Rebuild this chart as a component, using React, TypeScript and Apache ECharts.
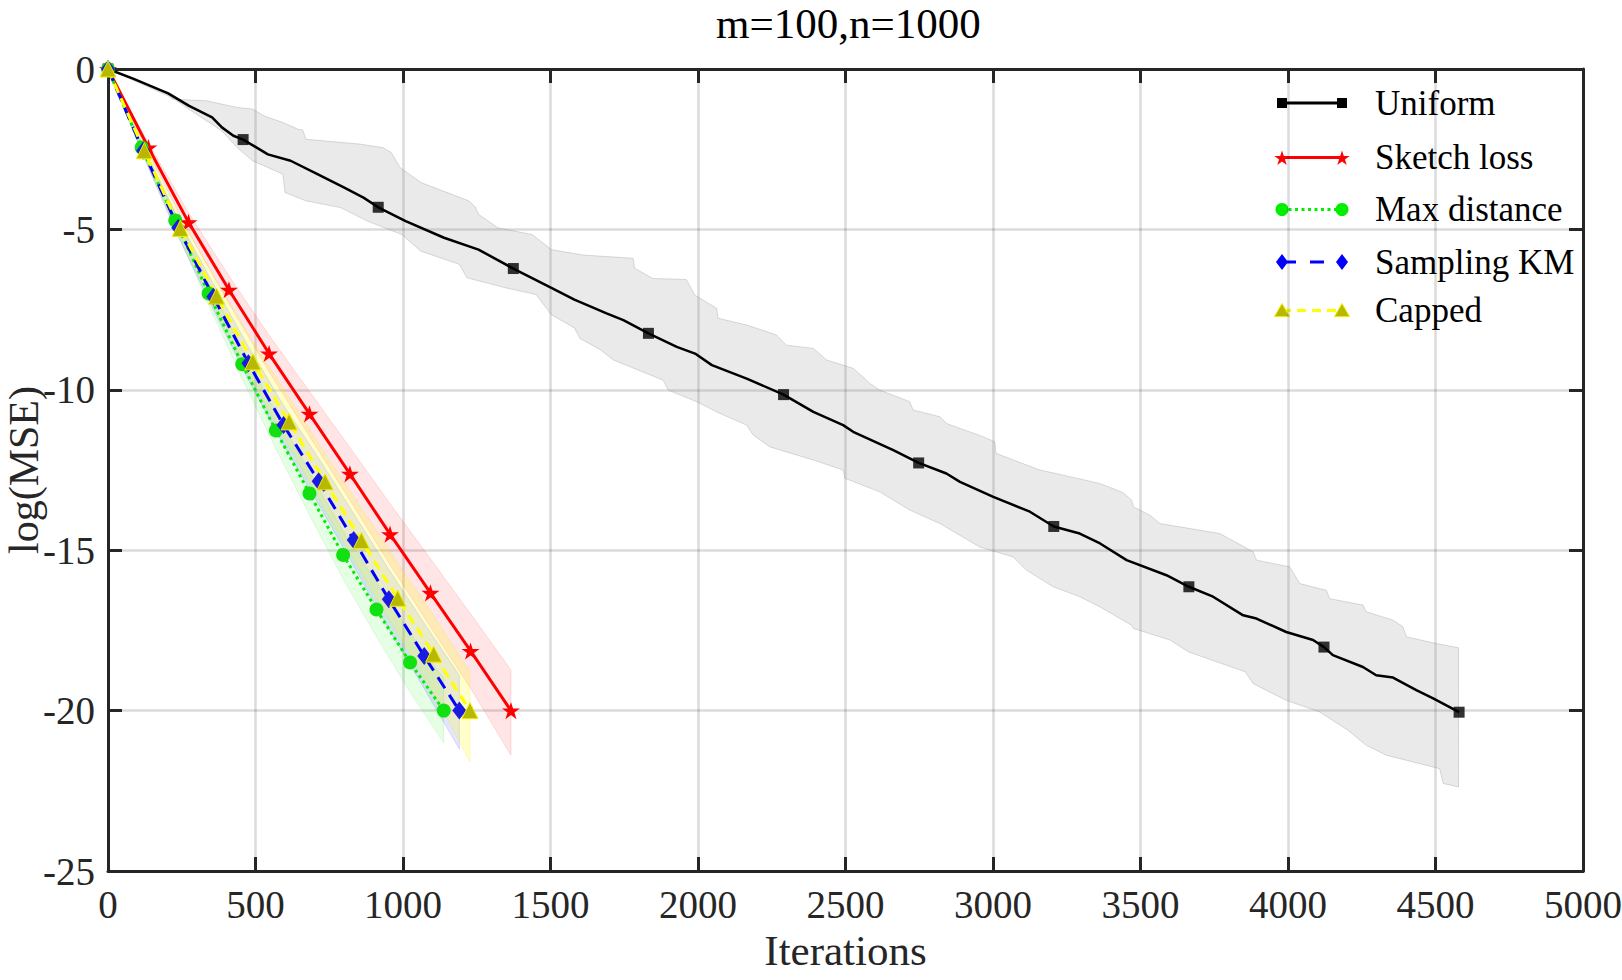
import React, { useEffect, useRef } from "react";
import * as echarts from "echarts";

// ---------- data ----------
const uniformLine: [number, number][] = [
  [0, 0], [87, -0.31], [204, -0.76], [275, -1.15], [353, -1.51], [386, -1.82], [425, -2.08],
  [458, -2.2], [542, -2.66], [619, -2.86], [710, -3.28], [801, -3.7], [866, -4.01], [916, -4.31],
  [1009, -4.74], [1139, -5.26], [1256, -5.63], [1374, -6.22], [1503, -6.82], [1581, -7.19],
  [1690, -7.62], [1747, -7.83], [1832, -8.24], [1928, -8.66], [1990, -8.87], [2047, -9.23],
  [2165, -9.65], [2290, -10.15], [2391, -10.69], [2492, -11.1], [2526, -11.31], [2662, -11.88],
  [2748, -12.28], [2842, -12.61], [2888, -12.87], [3001, -13.34], [3125, -13.8], [3206, -14.26],
  [3294, -14.48], [3363, -14.79], [3453, -15.31], [3588, -15.78], [3664, -16.14], [3746, -16.45],
  [3848, -17.03], [3893, -17.13], [3994, -17.55], [4085, -17.8], [4122, -18.02], [4152, -18.27],
  [4254, -18.64], [4299, -18.9], [4356, -18.97], [4435, -19.36], [4492, -19.62], [4580, -20.05],
];
const uniformMarkers: [number, number][] = [
  [0, 0], [458, -2.2], [916, -4.31], [1374, -6.22], [1832, -8.24], [2290, -10.15],
  [2748, -12.28], [3206, -14.26], [3664, -16.14], [4122, -18.02], [4580, -20.05],
];
const uniformUpper: [number, number][] = [
  [0, 0], [90, -0.3], [178, -0.68], [200, -0.7], [217, -0.94], [334, -0.99], [438, -1.2],
  [490, -1.25], [529, -1.46], [593, -1.67], [645, -1.88], [660, -1.9], [671, -2.19], [853, -2.34],
  [931, -2.45], [960, -2.6], [990, -3.07], [1061, -3.54], [1223, -4.11], [1245, -4.3],
  [1256, -4.53], [1321, -4.95], [1438, -5.16], [1503, -5.63], [1611, -5.8], [1780, -5.9],
  [1785, -6.21], [1847, -6.53], [1960, -6.56], [1990, -7.05], [2063, -7.46], [2068, -7.77],
  [2165, -7.98], [2266, -8.29], [2300, -8.61], [2391, -8.71], [2436, -9.07], [2526, -9.33],
  [2583, -9.8], [2616, -10.01], [2718, -10.37], [2729, -10.63], [2820, -10.84], [2842, -11.05],
  [2966, -11.46], [3006, -11.62], [3010, -11.98], [3159, -12.5], [3238, -12.66], [3362, -12.92],
  [3440, -13.2], [3470, -13.44], [3476, -13.65], [3532, -13.91], [3566, -14.17], [3769, -14.48],
  [3882, -15.05], [3893, -15.31], [4006, -15.52], [4040, -16.04], [4130, -16.25], [4141, -16.51],
  [4254, -16.71], [4265, -16.92], [4356, -17.18], [4390, -17.39], [4401, -17.7], [4503, -17.91],
  [4578, -18.04],
];
const uniformLower: [number, number][] = [
  [0, 0], [87, -0.36], [217, -0.89], [282, -1.3], [386, -1.93], [438, -2.45], [490, -2.86],
  [593, -3.28], [600, -3.85], [671, -4.11], [788, -4.32], [879, -4.74], [996, -5.16],
  [1061, -5.68], [1191, -6.09], [1217, -6.51], [1347, -6.82], [1451, -7.03], [1503, -7.66],
  [1581, -8.07], [1600, -8.4], [1669, -8.75], [1713, -9.07], [1882, -9.7], [1899, -10.01],
  [1995, -10.37], [2075, -10.74], [2165, -11.1], [2187, -11.41], [2244, -11.78], [2391, -12.19],
  [2492, -12.5], [2498, -12.76], [2616, -13.18], [2718, -13.75], [2820, -14.17], [2955, -14.9],
  [3068, -15.21], [3113, -15.62], [3204, -16.14], [3294, -16.45], [3363, -16.77], [3470, -17.34],
  [3476, -17.44], [3600, -17.8], [3663, -18.17], [3758, -18.48], [3855, -18.79], [3882, -19.16],
  [3994, -19.68], [4107, -20.04], [4203, -20.61], [4265, -21.08], [4333, -21.39], [4492, -21.76],
  [4514, -21.81], [4526, -22.27], [4578, -22.38],
];

const sketchX = [0, 137, 273, 410, 546, 683, 820, 956, 1093, 1229, 1366];
const sketchY = [0, -2.45, -4.78, -6.88, -8.87, -10.75, -12.62, -14.5, -16.33, -18.14, -20.0];
const sketchUp = [0, -2.3, -4.48, -6.45, -8.3, -10.05, -11.8, -13.55, -15.27, -16.98, -18.74];
const sketchLo = [0, -2.6, -5.08, -7.31, -9.44, -11.45, -13.44, -15.45, -17.39, -19.3, -21.39];

const maxDistX = [0, 114, 228, 341, 455, 569, 683, 797, 910, 1024, 1138];
const maxDistY = [0, -2.45, -4.72, -7.0, -9.2, -11.27, -13.23, -15.15, -16.85, -18.5, -20.0];
const maxDistUp = [0, -2.33, -4.49, -6.65, -8.74, -10.7, -12.57, -14.4, -16.0, -17.57, -19.0];
const maxDistLo = [0, -2.57, -4.95, -7.35, -9.66, -11.84, -13.9, -15.9, -17.7, -19.43, -21.0];

const kmX = [0, 119, 238, 357, 476, 595, 714, 833, 952, 1072, 1191];
const kmY = [0, -2.55, -4.95, -7.1, -9.17, -11.1, -12.85, -14.68, -16.53, -18.3, -20.0];
const kmUp = [0, -2.4, -4.67, -6.7, -8.65, -10.48, -12.13, -13.86, -15.6, -17.28, -18.9];
const kmLo = [0, -2.7, -5.23, -7.5, -9.69, -11.72, -13.57, -15.5, -17.46, -19.32, -21.2];

const cappedX = [0, 123, 245, 368, 491, 614, 736, 859, 982, 1104, 1227];
const cappedY = [0, -2.55, -4.97, -7.08, -9.13, -11.0, -12.87, -14.7, -16.5, -18.24, -20.0];
const cappedUp = [0, -2.38, -4.64, -6.6, -8.5, -10.25, -12.0, -13.7, -15.4, -17.05, -18.8];
const cappedLo = [0, -2.72, -5.3, -7.56, -9.76, -11.75, -13.74, -15.7, -17.6, -19.45, -21.6];

const legendNames = ["Uniform", "Sketch loss", "Max distance", "Sampling KM", "Capped"];
const titleText = "m=100,n=1000";
const xName = "Iterations";
const yName = "log(MSE)";

// ---------- styling helpers ----------
const FONT = "'Liberation Serif', 'Times New Roman', serif";
const AX = "#262626";
const STAR_PATH =
  "path://M50,0L61.2,34.5L97.6,34.5L68.2,55.9L79.4,90.5L50,69.1L20.6,90.5L31.8,55.9L2.4,34.5L38.8,34.5Z";
const STAR_PTS = [
  [0, -1], [0.2245, -0.309], [0.951, -0.309], [0.363, 0.118], [0.588, 0.809],
  [0, 0.382], [-0.588, 0.809], [-0.363, 0.118], [-0.951, -0.309], [-0.2245, -0.309],
];

const zip = (xs: number[], ys: number[]) => xs.map((x, i) => [x, ys[i]]);

function band(upper: number[][], lower: number[][], fill: string, stroke: string) {
  const poly = [...upper, ...lower.slice().reverse()];
  return {
    type: "custom",
    coordinateSystem: "cartesian2d",
    silent: true,
    clip: true,
    z: 1,
    data: [[0, 0]],
    renderItem: (_p: any, api: any) => ({
      type: "polygon",
      shape: { points: poly.map((p) => api.coord(p)) },
      style: { fill, stroke, lineWidth: 1 },
    }),
  };
}

function marker(kind: string, cx: number, cy: number) {
  switch (kind) {
    case "square":
      return { type: "rect", shape: { x: cx - 5, y: cy - 5, width: 10, height: 10 }, style: { fill: "#000" } };
    case "star":
      return {
        type: "polygon",
        shape: { points: STAR_PTS.map(([a, b]) => [cx + a * 8, cy + b * 8 + 1]) },
        style: { fill: "#ff0000" },
      };
    case "circle":
      return { type: "circle", shape: { cx, cy, r: 6.5 }, style: { fill: "#00ee00" } };
    case "diamond":
      return {
        type: "polygon",
        shape: { points: [[cx, cy - 8], [cx + 6, cy], [cx, cy + 8], [cx - 6, cy]] },
        style: { fill: "#0000ff" },
      };
    default:
      return {
        type: "polygon",
        shape: { points: [[cx, cy - 7], [cx + 7.5, cy + 6], [cx - 7.5, cy + 6]] },
        style: { fill: "#b8b800", stroke: "#eeee00", lineWidth: 1 },
      };
  }
}

export default function App() {
  const ref = useRef<HTMLDivElement>(null);

  useEffect(() => {
    if (!ref.current) return;
    const chart = echarts.init(ref.current, null, { renderer: "svg" });

    const legendY = [103, 157.5, 209.5, 262, 310.5];
    const legendStyle = [
      { color: "#000", dash: "solid" as any, mk: "square" },
      { color: "#ff0000", dash: "solid" as any, mk: "star" },
      { color: "#00ee00", dash: [3, 3.5], mk: "circle" },
      { color: "#0000ff", dash: [14, 14], mk: "diamond" },
      { color: "#ffff00", dash: [9, 6], mk: "triangle" },
    ];
    const legendGraphics: any[] = [];
    legendNames.forEach((name, i) => {
      const y = legendY[i];
      const s = legendStyle[i];
      legendGraphics.push({
        type: "line",
        shape: { x1: 1282, y1: y, x2: 1342, y2: y },
        style: { stroke: s.color, lineWidth: 3, lineDash: s.dash },
      });
      legendGraphics.push(marker(s.mk, 1282, y));
      legendGraphics.push(marker(s.mk, 1342, y));
      legendGraphics.push({
        type: "text",
        x: 1375,
        y: y,
        style: {
          text: name,
          font: `35px ${FONT}`,
          fill: "#000",
          textAlign: "left",
          textVerticalAlign: "middle",
        },
      });
    });

    const axisCommon = {
      type: "value",
      axisLine: { show: true, onZero: false, lineStyle: { color: AX, width: 3 } },
      axisTick: { show: true, inside: true, length: 14, lineStyle: { color: AX, width: 3 } },
    };
    const plain = (v: number) => String(v);

    const option: any = {
      animation: false,
      backgroundColor: "#fff",
      title: {
        text: titleText,
        left: 716,
        top: 2,
        padding: 0,
        textStyle: { fontFamily: FONT, fontSize: 43, fontWeight: "normal", color: "#000" },
      },
      grid: {
        left: 108,
        top: 69,
        right: 39,
        bottom: 109,
        containLabel: false,
        outerBoundsMode: "none",
      },
      xAxis: [
        {
          ...axisCommon,
          min: 0,
          max: 5000,
          interval: 500,
          position: "bottom",
          name: xName,
          nameLocation: "middle",
          nameGap: 58,
          nameTextStyle: { fontFamily: FONT, fontSize: 43, color: AX },
          axisLabel: { fontFamily: FONT, fontSize: 39, color: AX, margin: 14, formatter: plain },
          splitLine: { show: true, lineStyle: { color: "rgba(0,0,0,0.14)", width: 2.5 } },
        },
        {
          ...axisCommon,
          min: 0,
          max: 5000,
          interval: 500,
          position: "top",
          axisLabel: { show: false },
          splitLine: { show: false },
        },
      ],
      yAxis: [
        {
          ...axisCommon,
          min: -25,
          max: 0,
          interval: 5,
          position: "left",
          name: yName,
          nameLocation: "middle",
          nameGap: 63,
          nameMoveOverlap: false,
          nameTextStyle: { fontFamily: FONT, fontSize: 42, color: AX },
          axisLabel: { fontFamily: FONT, fontSize: 39, color: AX, margin: 13, formatter: plain },
          splitLine: { show: true, lineStyle: { color: "rgba(0,0,0,0.14)", width: 2.5 } },
        },
        {
          ...axisCommon,
          min: -25,
          max: 0,
          interval: 5,
          position: "right",
          axisLabel: { show: false },
          splitLine: { show: false },
        },
      ],
      graphic: legendGraphics,
      series: [
        band(uniformUpper, uniformLower, "rgba(150,150,150,0.2)", "rgba(140,140,140,0.3)"),
        band(zip(sketchX, sketchUp), zip(sketchX, sketchLo), "rgba(255,0,0,0.1)", "rgba(255,0,0,0.12)"),
        band(zip(maxDistX, maxDistUp), zip(maxDistX, maxDistLo), "rgba(0,255,0,0.1)", "rgba(0,200,0,0.1)"),
        band(zip(kmX, kmUp), zip(kmX, kmLo), "rgba(0,0,255,0.1)", "rgba(0,0,255,0.12)"),
        band(zip(cappedX, cappedUp), zip(cappedX, cappedLo), "rgba(255,255,0,0.2)", "rgba(230,230,0,0.2)"),
        {
          type: "line",
          name: legendNames[0],
          data: uniformLine,
          showSymbol: false,
          z: 2,
          lineStyle: { color: "#000", width: 2.5 },
        },
        {
          type: "scatter",
          name: legendNames[0] + " markers",
          data: uniformMarkers,
          symbol: "rect",
          symbolSize: 11,
          z: 3,
          itemStyle: { color: "#000" },
        },
        {
          type: "line",
          name: legendNames[1],
          data: zip(sketchX, sketchY),
          z: 3,
          symbol: STAR_PATH,
          symbolKeepAspect: true,
          symbolSize: 18,
          lineStyle: { color: "#ff0000", width: 3 },
          itemStyle: { color: "#ff0000" },
        },
        {
          type: "line",
          name: legendNames[2],
          data: zip(maxDistX, maxDistY),
          z: 3,
          symbol: "circle",
          symbolSize: 14,
          lineStyle: { color: "#00ee00", width: 3, type: [3, 3.5] },
          itemStyle: { color: "#11e011" },
        },
        {
          type: "line",
          name: legendNames[3],
          data: zip(kmX, kmY),
          z: 3,
          symbol: "diamond",
          symbolSize: [14, 18],
          lineStyle: { color: "#0000ff", width: 3, type: [13, 8] },
          itemStyle: { color: "#1a1ae0" },
        },
        {
          type: "line",
          name: legendNames[4],
          data: zip(cappedX, cappedY),
          z: 3,
          symbol: "triangle",
          symbolSize: 16,
          lineStyle: { color: "#ffff00", width: 3, type: [10, 6] },
          itemStyle: { color: "#b8b800", borderColor: "#eeee00", borderWidth: 1 },
        },
      ],
    };

    chart.setOption(option);
    return () => chart.dispose();
  }, []);

  return (
    <div
      ref={ref}
      style={{ position: "absolute", left: 0, top: 0, width: 1622, height: 980, background: "#fff" }}
    />
  );
}
